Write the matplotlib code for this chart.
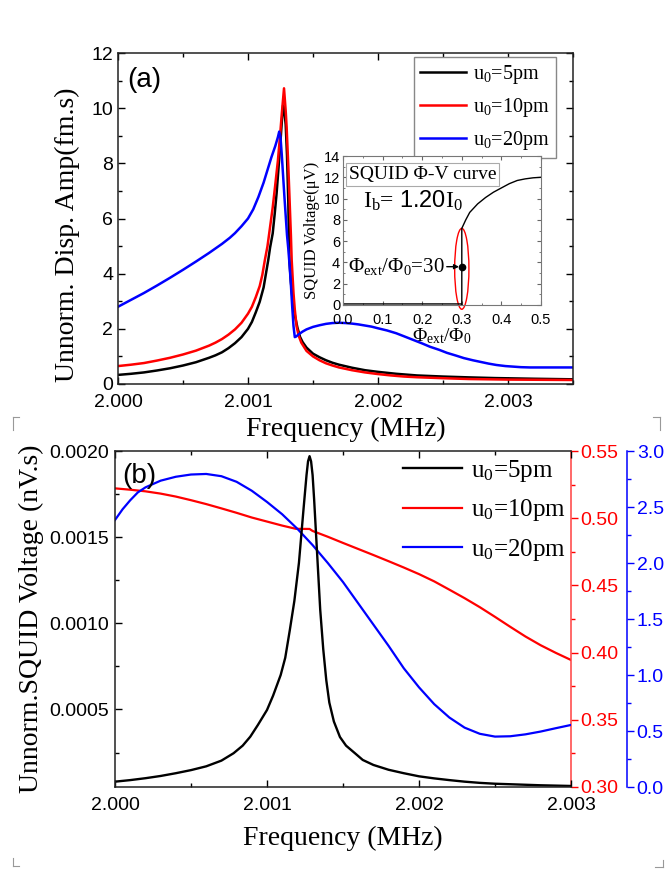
import matplotlib
matplotlib.use('Agg')
import matplotlib.pyplot as plt
from matplotlib.patches import Ellipse
from matplotlib.lines import Line2D
from matplotlib.ticker import MultipleLocator, FormatStrFormatter

# Fonts: Times-like serif for labels, Arial-like sans for ticks.
plt.rcParams['font.family'] = ['Liberation Sans', 'DejaVu Sans']
plt.rcParams['mathtext.fontset'] = 'custom'
plt.rcParams['mathtext.rm'] = 'Liberation Serif'
plt.rcParams['mathtext.it'] = 'Liberation Serif:italic'
plt.rcParams['mathtext.sf'] = 'Liberation Sans'
SERIF = ['Liberation Serif', 'DejaVu Serif']

# ---- panel (a) data: frequency (MHz) vs displacement amplitude (fm.s) ----
a_f_5pm = [2.0000, 2.0001, 2.0002, 2.0003, 2.0004, 2.0005, 2.0006, 2.00065,
           2.0007, 2.00075, 2.0008, 2.00085, 2.0009, 2.00095, 2.0010,
           2.00103, 2.00106, 2.00109, 2.00112, 2.001156, 2.00117, 2.00119,
           2.001205, 2.00122, 2.001235, 2.00125, 2.00126, 2.00127, 2.00128,
           2.00129, 2.00130, 2.00131, 2.001318, 2.00133, 2.00134, 2.00135,
           2.001362, 2.00138, 2.00140, 2.00142, 2.00145, 2.00150, 2.00155,
           2.00160, 2.00165, 2.00170, 2.00180, 2.00190, 2.00200, 2.00214,
           2.0023, 2.0025, 2.0027, 2.0029, 2.0032, 2.0035]
a_v_5pm = [0.33, 0.37, 0.42, 0.49, 0.57, 0.67, 0.79, 0.87,
           0.95, 1.04, 1.15, 1.30, 1.48, 1.70, 2.00,
           2.25, 2.60, 2.98, 3.50, 4.50, 4.95, 5.46,
           6.15, 6.91, 7.85, 8.80, 9.50, 10.10, 9.90,
           9.40, 8.30, 6.60, 4.50, 3.70, 3.20, 2.80,
           2.45, 2.05, 1.71, 1.52, 1.32, 1.10, 0.97,
           0.86, 0.77, 0.70, 0.59, 0.50, 0.44, 0.37,
           0.31, 0.27, 0.24, 0.215, 0.19, 0.17]

a_f_10pm = [2.0000, 2.0001, 2.0002, 2.0003, 2.0004, 2.0005, 2.0006, 2.00065,
            2.0007, 2.00075, 2.0008, 2.00085, 2.0009, 2.00095, 2.0010,
            2.00103, 2.00106, 2.00109, 2.00111, 2.00113, 2.00115, 2.00117,
            2.00119, 2.001208, 2.00123, 2.001246, 2.00126, 2.001277, 2.00129,
            2.001297, 2.00131, 2.001318, 2.00133, 2.001336, 2.00135, 2.00136,
            2.001374, 2.00139, 2.00141, 2.00145, 2.0015, 2.00155, 2.0016,
            2.00165, 2.0017, 2.0018, 2.0019, 2.0020, 2.0021, 2.0022, 2.0023,
            2.0025, 2.0027, 2.0030, 2.0035]
a_v_10pm = [0.65, 0.70, 0.76, 0.85, 0.95, 1.07, 1.21, 1.30,
            1.39, 1.50, 1.63, 1.79, 1.98, 2.22, 2.55,
            2.80, 3.15, 3.55, 3.95, 4.50, 5.00, 5.70,
            6.40, 7.15, 8.10, 8.97, 9.80, 10.72, 9.90,
            9.33, 7.90, 6.91, 5.40, 4.50, 3.30, 2.70,
            2.08, 1.75, 1.50, 1.20, 1.00, 0.86, 0.75,
            0.67, 0.60, 0.50, 0.42, 0.36, 0.31, 0.27, 0.245,
            0.21, 0.18, 0.16, 0.145]

a_f_20pm = [2.0000, 2.0001, 2.0002, 2.0003, 2.0004, 2.0005, 2.0006, 2.0007,
            2.0008, 2.00086, 2.0009, 2.00095, 2.0010, 2.00104, 2.00108,
            2.00112, 2.00115, 2.00118, 2.00121, 2.00123, 2.00124, 2.00125,
            2.00126, 2.00127, 2.00128, 2.00129, 2.0013, 2.00131, 2.00132,
            2.00133, 2.00134, 2.00135, 2.00136, 2.00137, 2.00139, 2.00142,
            2.00145, 2.0015, 2.00155, 2.0016, 2.00165, 2.0017, 2.00175,
            2.0018, 2.00185, 2.0019, 2.00195, 2.0020, 2.00207, 2.00214,
            2.0022, 2.00227, 2.00234, 2.0024, 2.00247, 2.00253, 2.0026,
            2.00266, 2.00273, 2.00279, 2.00285, 2.00291, 2.00298, 2.00304,
            2.0031, 2.00317, 2.00325, 2.00335, 2.0035]
a_v_20pm = [2.80, 3.05, 3.30, 3.57, 3.85, 4.14, 4.44, 4.75,
            5.08, 5.30, 5.47, 5.72, 6.00, 6.33, 6.78,
            7.30, 7.76, 8.22, 8.63, 8.95, 9.15, 8.95,
            8.30, 7.55, 6.80, 6.10, 5.40, 4.90, 4.30,
            3.60, 2.80, 2.10, 1.70, 1.72, 1.80, 1.90,
            1.98, 2.07, 2.13, 2.18, 2.21, 2.22, 2.21,
            2.19, 2.16, 2.12, 2.08, 2.02, 1.94, 1.84,
            1.73, 1.60, 1.47, 1.35, 1.24, 1.13, 1.03,
            0.94, 0.86, 0.80, 0.74, 0.69, 0.65, 0.63,
            0.61, 0.60, 0.60, 0.60, 0.60]

# ---- inset: SQUID phi-V curve ----
in_phi = [0.0, 0.10, 0.20, 0.298, 0.300, 0.300, 0.31, 0.32, 0.34, 0.36,
          0.38, 0.40, 0.42, 0.44, 0.46, 0.48, 0.50]
in_volt = [0.1, 0.1, 0.1, 0.1, 0.0, 7.2, 8.0, 8.7, 9.5, 10.1,
           10.6, 11.0, 11.4, 11.7, 11.85, 11.95, 12.0]
in_bias_phi = 0.30
in_bias_volt = 3.6

# ---- panel (b) data: SQUID voltage ----
b_f_5pm = [2.0000, 2.0001, 2.0002, 2.0003, 2.0004, 2.0005, 2.0006, 2.0007,
           2.00078, 2.00084, 2.00089, 2.00094, 2.0010, 2.00104, 2.00109,
           2.00112, 2.00115, 2.00118, 2.00121, 2.00124, 2.00126, 2.00127,
           2.00128, 2.00129, 2.0013, 2.00131, 2.00133, 2.00135, 2.00137,
           2.00139, 2.00141, 2.00144, 2.00148, 2.00152, 2.00158, 2.00163,
           2.0017, 2.0018, 2.0019, 2.0020, 2.0021, 2.0022, 2.0023, 2.0024,
           2.0025, 2.0026, 2.0027, 2.0028, 2.0029, 2.0030]
b_v_5pm = [0.000081, 0.000090, 0.000101, 0.000114, 0.000130, 0.000148,
           0.000170, 0.000203, 0.000246, 0.000290, 0.000342, 0.000410,
           0.000497, 0.00058, 0.00070, 0.00080, 0.00096, 0.00113, 0.00135,
           0.00166, 0.00186, 0.00194, 0.00197, 0.00194, 0.00186, 0.00172,
           0.00140, 0.00108, 0.00085, 0.00067, 0.00054, 0.00043, 0.00034,
           0.00029, 0.000245, 0.000207, 0.000178, 0.000150, 0.000130,
           0.000112, 0.000100, 0.000090, 0.000081, 0.000074, 0.000069,
           0.000066, 0.000063, 0.000060, 0.000058, 0.000056]

b_f_10pm = [2.0000, 2.0001, 2.0002, 2.0003, 2.0004, 2.0005, 2.0006, 2.0007,
            2.0008, 2.0009, 2.0010, 2.0011, 2.00119, 2.00128, 2.0013, 2.0014,
            2.0015, 2.0016, 2.0017, 2.0018, 2.0019, 2.0020, 2.0021, 2.0022,
            2.0023, 2.0024, 2.0025, 2.0026, 2.0027, 2.0028, 2.0029, 2.0030]
b_v_10pm = [0.5222, 0.5212, 0.5200, 0.5183, 0.5161, 0.5134, 0.5105, 0.5073,
            0.5040, 0.5005, 0.4975, 0.4945, 0.4921, 0.4920, 0.4905, 0.4862,
            0.4816, 0.4771, 0.4726, 0.4680, 0.4633, 0.4584, 0.4530, 0.4468,
            0.4405, 0.4338, 0.4266, 0.4192, 0.4120, 0.4055, 0.3998, 0.3945]

b_f_20pm = [2.0000, 2.00005, 2.0001, 2.00015, 2.0002, 2.0003, 2.0004, 2.0005,
            2.0006, 2.0007, 2.0008, 2.0009, 2.0010, 2.0011, 2.0012, 2.0013,
            2.0014, 2.0015, 2.0016, 2.0017, 2.0018, 2.0019, 2.0020, 2.0021,
            2.0022, 2.0023, 2.0024, 2.0025, 2.0026, 2.0027, 2.0028, 2.0029,
            2.0030]
b_v_20pm = [2.384, 2.48, 2.56, 2.63, 2.675, 2.735, 2.77, 2.79,
            2.795, 2.775, 2.725, 2.645, 2.545, 2.435, 2.305, 2.16,
            2.00, 1.83, 1.64, 1.45, 1.26, 1.06, 0.89, 0.74,
            0.62, 0.53, 0.475, 0.45, 0.453, 0.47, 0.495, 0.525,
            0.554]

labels = [r'u$_0$=5pm', r'u$_0$=10pm', r'u$_0$=20pm']
RED = '#ff0000'
BLUE = '#0000ff'

W, H = 665, 869
fig = plt.figure(figsize=(W / 100, H / 100), dpi=100)


def box(l, r, t, b):
    return [l / W, 1 - b / H, (r - l) / W, (b - t) / H]


def style_ticks(ax, size=14, **kw):
    ax.tick_params(which='major', length=5, width=1, labelsize=size, **kw)
    ax.tick_params(which='minor', length=3, width=1, **kw)


# ================= panel (a) =================
ax_a = fig.add_axes(box(118, 573, 53, 384))
ax_a.plot(a_f_5pm, a_v_5pm, color='k', lw=1.8, label=labels[0])
ax_a.plot(a_f_10pm, a_v_10pm, color=RED, lw=1.8, label=labels[1])
ax_a.plot(a_f_20pm, a_v_20pm, color=BLUE, lw=1.8, label=labels[2])
ax_a.set_xlim(2.0, 2.0035)
ax_a.set_ylim(0, 12)
ax_a.xaxis.set_major_locator(MultipleLocator(0.001))
ax_a.xaxis.set_minor_locator(MultipleLocator(0.0005))
ax_a.yaxis.set_major_locator(MultipleLocator(2))
ax_a.yaxis.set_minor_locator(MultipleLocator(1))
ax_a.xaxis.set_major_formatter(FormatStrFormatter('%.3f'))
style_ticks(ax_a, direction='in', top=True, right=True)
ax_a.tick_params(axis='x', pad=7)
for s in ax_a.spines.values():
    s.set_linewidth(1.1)
    s.set_color('#222222')
ax_a.set_xlabel('Frequency (MHz)', family=SERIF, size=20)
ax_a.xaxis.set_label_coords(0.5, -0.10)
ax_a.set_ylabel('Unnorm. Disp. Amp(fm.s)', family=SERIF, size=20)
ax_a.yaxis.set_label_coords(-0.0835, 0.452)
ax_a.text(0.02, 0.958, '(a)', transform=ax_a.transAxes, size=20, va='top')
ax_a.legend(loc='upper left', bbox_to_anchor=(0.65, 0.988), borderaxespad=0,
            prop={'family': SERIF, 'size': 14.5}, frameon=True, fancybox=False,
            edgecolor='#888888', framealpha=1, handlelength=2.3,
            handletextpad=0.35, labelspacing=0.5, borderpad=0.3)

# ---- inset ----
ax_in = fig.add_axes(box(343, 541, 156, 305))
ax_in.plot(in_phi, in_volt, color='k', lw=1.0)
ax_in.plot(in_bias_phi, in_bias_volt, 'o', color='k', ms=4.5)
ax_in.annotate('', xy=(in_bias_phi, in_bias_volt), xytext=(0.255, in_bias_volt),
               arrowprops=dict(arrowstyle='-|>', color='k', lw=1,
                               mutation_scale=7, shrinkB=2))
ax_in.text(0.256, in_bias_volt, r'Φ$_{\mathrm{ext}}$/Φ$_0$=30', family=SERIF,
           size=15, ha='right', va='center')
ax_in.add_patch(Ellipse((0.30, 3.4), 0.036, 7.6, fill=False, edgecolor=RED,
                        lw=1.0, clip_on=False))
ax_in.text(0.03, 0.875, 'SQUID Φ-V curve', transform=ax_in.transAxes,
           family=SERIF, size=14, va='center',
           bbox=dict(boxstyle='square,pad=0.15', fc='white', ec='#aaaaaa', lw=0.8))
ax_in.text(0.10, 0.65, r'I$_\mathrm{b}$= $\mathsf{1.20}$I$_0$', transform=ax_in.transAxes,
           family=SERIF, size=17, va='baseline')
ax_in.set_xlim(0, 0.5)
ax_in.set_ylim(0, 14)
ax_in.xaxis.set_major_locator(MultipleLocator(0.1))
ax_in.xaxis.set_minor_locator(MultipleLocator(0.05))
ax_in.yaxis.set_major_locator(MultipleLocator(2))
ax_in.yaxis.set_minor_locator(MultipleLocator(1))
ax_in.xaxis.set_major_formatter(FormatStrFormatter('%.1f'))
ax_in.tick_params(which='both', direction='in', top=True, right=True,
                  labelsize=10.5, pad=2, color='#666666')
ax_in.tick_params(axis='x', pad=5.5)
ax_in.tick_params(which='major', length=3)
ax_in.tick_params(which='minor', length=1.5)
for s in ax_in.spines.values():
    s.set_linewidth(0.8)
    s.set_color('#777777')
ax_in.set_ylabel('SQUID Voltage(μV)', family=SERIF, size=12)
ax_in.yaxis.set_label_coords(-0.115, 0.5)
ax_in.set_xlabel(r'Φ$_{\mathrm{ext}}$/Φ$_0$', family=SERIF, size=14)
ax_in.xaxis.set_label_coords(0.5, -0.14)

# ================= panel (b) =================
ax_b = fig.add_axes(box(115, 571, 451, 787))
ax_r = ax_b.twinx()
ax_bl = ax_b.twinx()
ax_bl.spines['right'].set_position(('axes', 1 + 56 / 456))

l5, = ax_b.plot(b_f_5pm, b_v_5pm, color='k', lw=1.7)
l10, = ax_r.plot(b_f_10pm, b_v_10pm, color=RED, lw=1.6)
l20, = ax_bl.plot(b_f_20pm, b_v_20pm, color=BLUE, lw=1.6)

# keep the black curve above the twin axes
ax_b.set_zorder(3)
ax_b.patch.set_visible(False)

ax_b.set_xlim(2.0, 2.003)
ax_b.set_ylim(0.00005, 0.0020)
ax_b.xaxis.set_major_locator(MultipleLocator(0.001))
ax_b.xaxis.set_minor_locator(MultipleLocator(0.0005))
ax_b.yaxis.set_major_locator(MultipleLocator(0.0005))
ax_b.yaxis.set_minor_locator(MultipleLocator(0.00025))
ax_b.xaxis.set_major_formatter(FormatStrFormatter('%.3f'))
ax_b.yaxis.set_major_formatter(FormatStrFormatter('%.4f'))
style_ticks(ax_b, direction='in', top=True, right=False)
ax_b.tick_params(axis='x', pad=7)
ax_b.tick_params(axis='y', pad=4)
ax_b.spines['right'].set_visible(False)
for k in ['left', 'top', 'bottom']:
    ax_b.spines[k].set_linewidth(1.1)
    ax_b.spines[k].set_color('#222222')
ax_b.set_xlabel('Frequency (MHz)', family=SERIF, size=20)
ax_b.xaxis.set_label_coords(0.5, -0.115)
ax_b.set_ylabel('Unnorm.SQUID Voltage (nV.s)', family=SERIF, size=20)
ax_b.yaxis.set_label_coords(-0.156, 0.5)
ax_b.text(0.015, 0.964, '(b)', transform=ax_b.transAxes, size=20, va='top')

ax_r.set_ylim(0.30, 0.55)
ax_r.yaxis.set_major_locator(MultipleLocator(0.05))
ax_r.yaxis.set_minor_locator(MultipleLocator(0.025))
ax_r.yaxis.set_major_formatter(FormatStrFormatter('%.2f'))
style_ticks(ax_r, direction='out', colors=RED)
ax_r.tick_params(axis='y', pad=2)
ax_bl.set_ylim(0, 3.0)
ax_bl.yaxis.set_major_locator(MultipleLocator(0.5))
ax_bl.yaxis.set_minor_locator(MultipleLocator(0.25))
ax_bl.yaxis.set_major_formatter(FormatStrFormatter('%.1f'))
style_ticks(ax_bl, direction='out', colors=BLUE)
ax_bl.tick_params(axis='y', pad=2)
for a in (ax_r, ax_bl):
    for k in ['left', 'top', 'bottom']:
        a.spines[k].set_visible(False)
ax_r.spines['right'].set_color('#ff4040')
ax_r.spines['right'].set_linewidth(1.1)
ax_bl.spines['right'].set_color(BLUE)
ax_bl.spines['right'].set_linewidth(1.1)

ax_b.legend([l5, l10, l20], labels, loc='upper left', bbox_to_anchor=(0.61, 1.01),
            borderaxespad=0, prop={'family': SERIF, 'size': 18}, frameon=False,
            handlelength=2.35, handletextpad=0.35, labelspacing=0.55)

# page crop marks
marks = [((13, 19), (417, 417)), ((13, 13), (417, 430)),
         ((653, 660), (417, 417)), ((660, 660), (417, 430)),
         ((13, 13), (858, 866)), ((13, 19), (866, 866)),
         ((663, 663), (860, 867)), ((655, 663), (867, 867))]
for xs, ys in marks:
    fig.add_artist(Line2D([x / W for x in xs], [1 - y / H for y in ys],
                          transform=fig.transFigure, color='#999999', lw=0.8))

fig.savefig('out.png', dpi=100)
